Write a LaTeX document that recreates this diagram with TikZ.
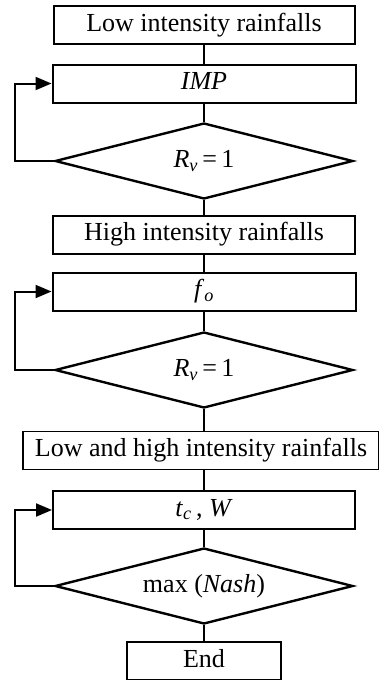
\documentclass[tikz,border=0pt]{standalone}
\usepackage{fontspec}
\setmainfont{Liberation Serif}
\usetikzlibrary{arrows.meta,shapes.geometric}

\begin{document}
\begin{tikzpicture}[x=1pt,y=-1pt,
    >={Triangle[length=16pt,width=13pt]},
    font=\fontsize{26}{30}\selectfont,
    stepbox/.style={draw,line width=2pt,inner sep=0pt,minimum height=38pt,text height=18pt,text depth=6pt,fill=white},
    testbox/.style={draw,diamond,line width=2.4pt,inner sep=0pt,aspect=3.9,minimum width=298pt,minimum height=76pt},
    link/.style={line width=2pt},
    loopback/.style={->,line width=2pt},
]

\useasboundingbox (0,0) rectangle (379,680);

% ---------- Stage 1: low intensity rainfalls ----------
\node[stepbox,minimum width=301pt] (low) at (204,25) {Low intensity rainfalls};
\node[stepbox,minimum width=303pt] (imp) at (204,83.5) {\textit{IMP}};
\node[testbox] (rv1) at (204,161) {\textit{R}\textsubscript{\textit{v}}\,=\,1};

% ---------- Stage 2: high intensity rainfalls ----------
\node[stepbox,minimum width=302pt] (high) at (204,234.5) {High intensity rainfalls};
\node[stepbox,minimum width=303pt] (fo) at (204,291.5) {\textit{f}\textsubscript{\textit{o}}};
\node[testbox] (rv2) at (204,370) {\textit{R}\textsubscript{\textit{v}}\,=\,1};

% ---------- Stage 3: both kinds ----------
\node[stepbox,minimum width=356pt,line width=1.6pt] (both) at (201,450.5) {Low and high intensity rainfalls};
\node[stepbox,minimum width=302pt] (tcw) at (204,510) {\textit{t}\textsubscript{\textit{c}}\,, \textit{W}};
\node[testbox] (nash) at (204,586) {max (\textit{Nash})};
\node[stepbox,minimum width=154pt] (stop) at (204,661) {End};

% ---------- straight links ----------
\foreach \a/\b in {low/imp, imp/rv1, rv1/high, high/fo, fo/rv2, tcw/nash, nash/stop}
  \draw[link] (\a.south) -- (\b.north);
\draw[link] (rv2.south) -- (rv2.south |- both.north);
\draw[link] (tcw.north |- both.south) -- (tcw.north);

% ---------- feedback loops ----------
\foreach \d/\b in {rv1/imp, rv2/fo, nash/tcw}
  \draw[loopback] (\d.west) -- ++(-39,0) |- (\b.west);

\end{tikzpicture}
\end{document}
